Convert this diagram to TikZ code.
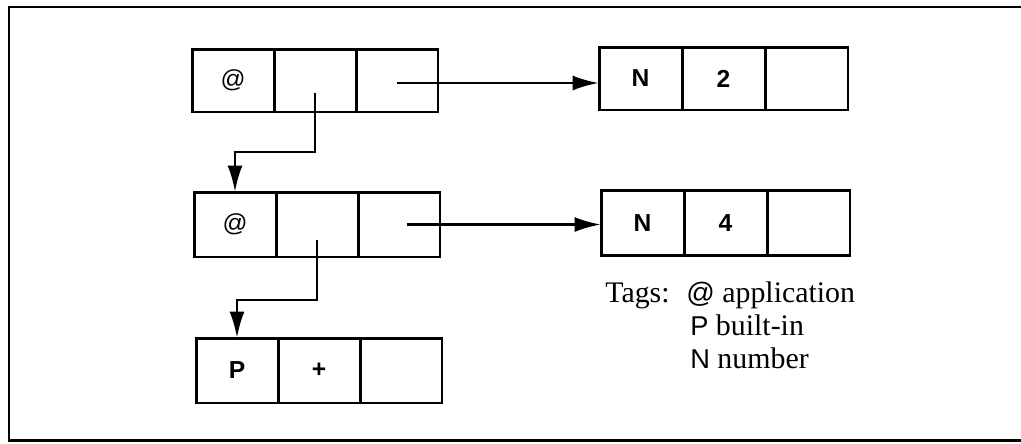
\documentclass[tikz,border=0pt]{standalone}
\usepackage{fontspec}
\setmainfont{Liberation Serif}
\setsansfont{Liberation Sans}
\usetikzlibrary{arrows.meta}
\begin{document}
\begin{tikzpicture}[x=0.02cm,y=-0.02cm,
  cell/.style={draw,line width=1.7pt,minimum width=1.64cm,minimum height=1.26cm,inner sep=0pt,outer sep=0pt,font=\sffamily\bfseries\fontsize{14}{16}\selectfont},
  rcell/.style={cell,minimum width=1.66cm},
  atsign/.style={font=\sffamily\fontsize{14}{16}\selectfont},
  arr/.style={line width=1.6pt,-{Latex[length=15pt,width=8.5pt]}},
  frame/.style={line width=1.7pt},
  tag/.style={anchor=base west,inner sep=0pt,font=\rmfamily\fontsize{17}{20}\selectfont}]
\useasboundingbox (0,0) rectangle (1021,443);
\draw[frame] (1030,7) -- (9,7) -- (9,440) -- (1030,440);
% row 1
\node[cell,atsign] (a1) at (233,80.5) {@};
\node[cell] (a2) at (315,80.5) {};
\node[cell] (a3) at (397,80.5) {};
% row 2
\node[cell,atsign,minimum height=1.3cm] (b1) at (235,224.5) {@};
\node[cell,minimum height=1.3cm] (b2) at (317,224.5) {};
\node[cell,minimum height=1.3cm] (b3) at (399,224.5) {};
% row 3
\node[cell,minimum height=1.3cm] (c1) at (237,370.5) {P};
\node[cell,minimum height=1.3cm] (c2) at (319,370.5) {+};
\node[cell,minimum height=1.3cm] (c3) at (401,370.5) {};
% right row 1
\node[rcell] (r1) at (640.5,78.5) {N};
\node[rcell] (r2) at (723.5,78.5) {2};
\node[rcell] (r3) at (806.5,78.5) {};
% right row 2
\node[rcell,minimum height=1.3cm] (s1) at (642.5,223) {N};
\node[rcell,minimum height=1.3cm] (s2) at (725.5,223) {4};
\node[rcell,minimum height=1.3cm] (s3) at (808.5,223) {};
% connectors
\coordinate (p1) at (315,93);
\coordinate (p2) at (317,240);
\draw[arr] (a3.center) ++(0,2.5) coordinate (h1) -- (h1 -| r1.west);
\draw[arr] (b3.center) ++(8,0) coordinate (h2) -- (h2 -| s1.west);
\draw[arr] (p1) -- (315,152) -| (b1.north);
\draw[arr] (p2) -- (317,300) -| (c1.north);
% tags
\node[tag] (t0) at (605,302) {Tags:};
\node[tag] (t1) at (686,302) {{\sffamily\fontsize{16}{18}\selectfont @} application};
\node[tag] (t2) at (690,335) {{\sffamily\fontsize{15.5}{18}\selectfont P} built-in};
\node[tag] (t3) at (690,368) {{\sffamily\fontsize{15.5}{18}\selectfont N} number};
\end{tikzpicture}
\end{document}
